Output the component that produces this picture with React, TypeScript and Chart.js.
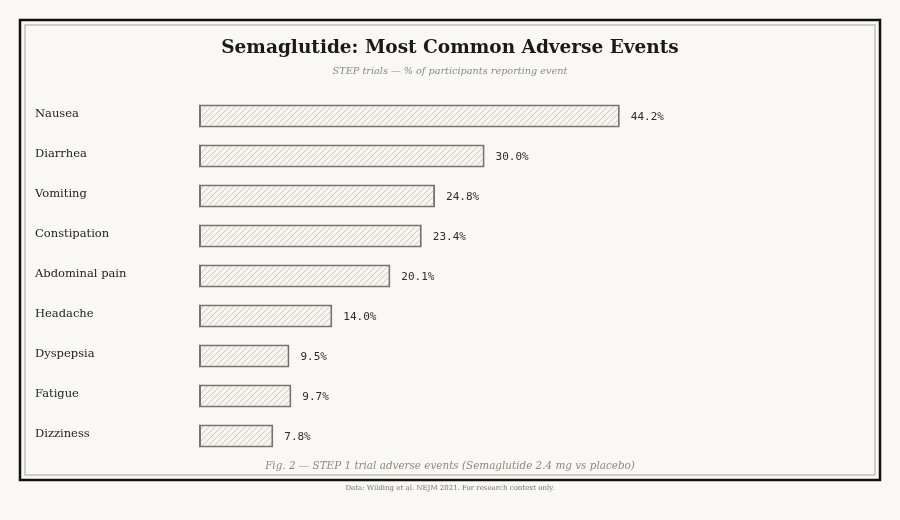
import React, { useEffect, useRef } from "react";
import { Chart, registerables } from "chart.js";

Chart.register(...registerables);

const categories = [
  "Nausea",
  "Diarrhea",
  "Vomiting",
  "Constipation",
  "Abdominal pain",
  "Headache",
  "Dyspepsia",
  "Fatigue",
  "Dizziness",
];
const incidencePct = [44.2, 30.0, 24.8, 23.4, 20.1, 14.0, 9.5, 9.7, 7.8];

const titleText = "Semaglutide: Most Common Adverse Events";
const subtitleText = "STEP trials \u2014 % of participants reporting event";
const captionText = "Fig. 2 \u2014 STEP 1 trial adverse events (Semaglutide 2.4 mg vs placebo)";
const sourceText = "Data: Wilding et al. NEJM 2021. For research context only.";

const SERIF = "Georgia, 'DejaVu Serif', serif";
const MONO = "'DejaVu Sans Mono', monospace";
const PAPER = "#f9f8f4";

function makeHatch(): CanvasPattern | string {
  const s = 6;
  const tile = document.createElement("canvas");
  tile.width = s;
  tile.height = s;
  const c = tile.getContext("2d");
  if (!c) return PAPER;
  c.fillStyle = "#f7f5f0";
  c.fillRect(0, 0, s, s);
  c.strokeStyle = "#cfcac1";
  c.lineWidth = 1;
  c.beginPath();
  c.moveTo(-1, s + 1);
  c.lineTo(s + 1, -1);
  c.moveTo(-1, 1);
  c.lineTo(1, -1);
  c.moveTo(s - 1, s + 1);
  c.lineTo(s + 1, s - 1);
  c.stroke();
  return c.createPattern(tile, "repeat") || PAPER;
}

// Paper background, double frame, headings and footnotes
const framePlugin = {
  id: "paperFrame",
  beforeDraw(chart: Chart) {
    const ctx = chart.ctx;
    ctx.save();
    ctx.fillStyle = PAPER;
    ctx.fillRect(0, 0, chart.width, chart.height);
    ctx.strokeStyle = "#111111";
    ctx.lineWidth = 2.5;
    ctx.strokeRect(20, 20, 860, 460);
    ctx.strokeStyle = "#c2bfb8";
    ctx.lineWidth = 1.5;
    ctx.strokeRect(25, 25, 850, 450);

    ctx.textAlign = "center";
    ctx.textBaseline = "middle";
    ctx.fillStyle = "#1a1a1a";
    ctx.font = `bold 18.5px ${SERIF}`;
    ctx.fillText(titleText, 450, 48);
    ctx.fillStyle = "#8d887f";
    ctx.font = `italic 9.7px ${SERIF}`;
    ctx.fillText(subtitleText, 450, 71);
    ctx.fillStyle = "#8d887f";
    ctx.font = `italic 10.4px ${SERIF}`;
    ctx.fillText(captionText, 450, 466);
    ctx.fillStyle = "#77736b";
    ctx.font = `7px ${SERIF}`;
    ctx.fillText(sourceText, 450, 488);
    ctx.restore();
  },
};

// Percentage labels to the right of each bar
const valueLabelPlugin = {
  id: "valueLabels",
  afterDatasetsDraw(chart: Chart) {
    const ctx = chart.ctx;
    const meta = chart.getDatasetMeta(0);
    ctx.save();
    ctx.fillStyle = "#2b2b2b";
    ctx.font = `11px ${MONO}`;
    ctx.textAlign = "left";
    ctx.textBaseline = "middle";
    meta.data.forEach((bar: any, i: number) => {
      const v = incidencePct[i];
      ctx.fillText(`${v.toFixed(1)}%`, bar.x + 11, bar.y + 1);
    });
    ctx.restore();
  },
};

export default function App() {
  const canvasRef = useRef<HTMLCanvasElement | null>(null);

  useEffect(() => {
    const canvas = canvasRef.current;
    if (!canvas) return;
    const chart = new Chart(canvas, {
      type: "bar",
      data: {
        labels: categories,
        datasets: [
          {
            data: incidencePct,
            backgroundColor: makeHatch(),
            borderColor: "#76736e",
            borderWidth: 2,
            borderSkipped: false,
            barPercentage: 0.575,
            categoryPercentage: 1,
          },
        ],
      },
      options: {
        indexAxis: "y",
        responsive: false,
        animation: false,
        devicePixelRatio: 1,
        layout: { padding: { left: 35, right: 225, top: 96, bottom: 64 } },
        plugins: {
          legend: { display: false },
          tooltip: { enabled: false },
          title: { display: false },
        },
        scales: {
          x: {
            display: false,
            min: 0,
            max: 50,
          },
          y: {
            grid: { display: false, drawTicks: false },
            border: { display: false },
            afterFit(scale: any) {
              scale.width = 164;
            },
            ticks: {
              crossAlign: "far",
              padding: 0,
              labelOffset: -2,
              color: "#222222",
              font: { family: SERIF, size: 11.5 },
            },
          },
        },
      },
      plugins: [framePlugin, valueLabelPlugin],
    });
    return () => chart.destroy();
  }, []);

  return (
    <div style={{ position: "absolute", left: 0, top: 0, width: 900, height: 520, background: PAPER }}>
      <canvas ref={canvasRef} width={900} height={520} style={{ display: "block" }} />
    </div>
  );
}
